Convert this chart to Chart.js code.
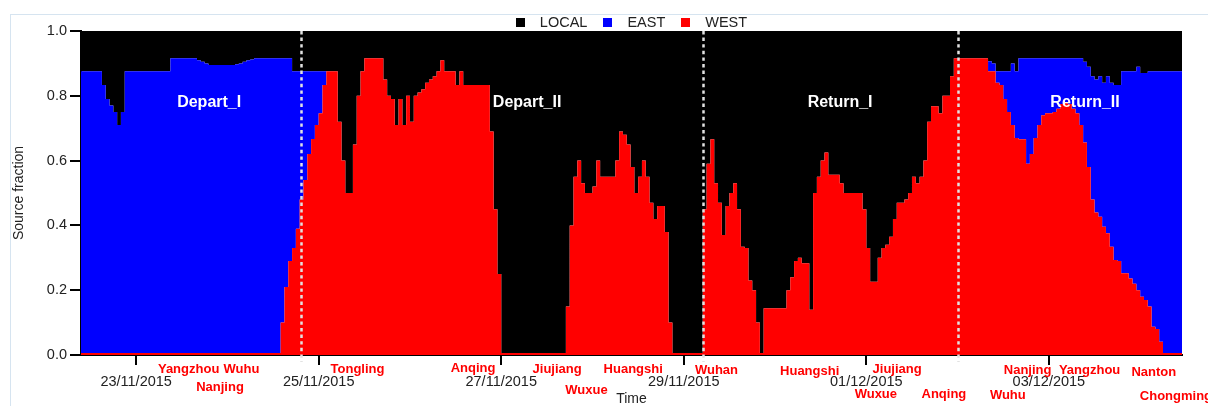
<!DOCTYPE html>
<html>
<head>
<meta charset="utf-8">
<title>Source fraction</title>
<script src="https://cdn.jsdelivr.net/npm/chart.js@4.4.1/dist/chart.umd.min.js"></script>
<style>
  html, body { margin: 0; padding: 0; background: #fff; }
  #wrap { position: relative; width: 1208px; height: 406px; }
</style>
</head>
<body>
<div id="wrap"><canvas id="chart"></canvas></div>
<script>
// hourly samples, hours counted from 23/11/2015 00:00 (first sample 22/11 09:00)
var START_HOUR = -15;

var WEST = [
  0.006,0.006,0.006,0.006,0.006,0.006,0.006,0.006,0.006,0.006,0.006,0.006,0.006,0.006,0.006,
  0.006,0.006,0.006,0.006,0.006,0.006,0.006,0.006,0.006,0.006,0.006,0.006,0.006,0.006,0.006,0.006,0.006,0.006,0.006,0.006,0.006,0.006,0.006,0.006,
  0.006,0.006,0.006,0.006,0.006,0.006,0.006,0.006,0.006,0.006,0.006,0.006,0.006,0.006,0.006,0.1,0.21,0.29,0.33,0.39,0.48,0.54,0.62,0.667,
  0.71,0.746,0.833,0.876,0.876,0.876,0.72,0.6,0.5,0.5,0.65,0.8,0.876,0.916,0.916,0.916,0.916,0.916,0.85,0.8,0.79,0.71,0.79,0.71,
  0.8,0.72,0.8,0.81,0.82,0.84,0.85,0.86,0.876,0.91,0.876,0.876,0.876,0.833,0.876,0.833,0.833,0.833,0.833,0.833,0.833,0.833,0.69,0.45,
  0.25,0.006,0.006,0.006,0.006,0.006,0.006,0.006,0.006,0.006,0.006,0.006,0.006,0.006,0.006,0.006,0.006,0.006,0.15,0.4,0.55,0.6,0.53,0.5,
  0.5,0.52,0.6,0.55,0.55,0.55,0.55,0.6,0.69,0.68,0.65,0.58,0.5,0.55,0.6,0.55,0.47,0.42,0.46,0.46,0.38,0.1,0.006,0.006,
  0.006,0.006,0.006,0.006,0.006,0.006,0.45,0.59,0.666,0.53,0.47,0.37,0.46,0.5,0.53,0.45,0.334,0.33,0.23,0.2,0.1,0.006,0.144,0.144,
  0.144,0.144,0.144,0.144,0.2,0.24,0.29,0.3,0.283,0.283,0.14,0.5,0.55,0.6,0.625,0.556,0.556,0.556,0.53,0.5,0.5,0.5,0.5,0.5,
  0.45,0.33,0.226,0.226,0.3,0.33,0.34,0.365,0.42,0.47,0.47,0.48,0.5,0.55,0.53,0.55,0.6,0.72,0.768,0.768,0.746,0.8,0.8,0.86,
  0.916,0.916,0.916,0.916,0.916,0.916,0.916,0.916,0.916,0.876,0.876,0.84,0.833,0.79,0.75,0.71,0.67,0.666,0.666,0.59,0.62,0.67,0.71,0.74,
  0.746,0.746,0.75,0.76,0.775,0.78,0.775,0.76,0.746,0.71,0.656,0.58,0.48,0.44,0.427,0.396,0.376,0.334,0.293,0.29,0.252,0.252,0.236,0.22,
  0.2,0.18,0.17,0.15,0.087,0.08,0.041,0.006,0.006,0.006,0.006,0.006
];

var EAST = [
  0.87,0.87,0.87,0.87,0.87,0.87,0.87,0.827,0.784,0.764,0.744,0.704,0.744,0.87,0.87,
  0.87,0.87,0.87,0.87,0.87,0.87,0.87,0.87,0.87,0.87,0.91,0.91,0.91,0.91,0.91,0.91,0.91,0.904,0.899,0.894,0.889,0.889,0.889,0.889,
  0.889,0.889,0.889,0.891,0.894,0.899,0.904,0.906,0.91,0.91,0.91,0.91,0.91,0.91,0.91,0.816,0.706,0.626,0.546,0.486,0.396,0.336,0.256,0.209,
  0.166,0.13,0.043,0,0,0,0,0,0,0,0,0,0,0,0,0,0,0,0,0,0,0,0,0,
  0,0,0,0,0,0,0,0,0,0,0,0,0,0,0,0,0,0,0,0,0,0,0,0,
  0,0,0,0,0,0,0,0,0,0,0,0,0,0,0,0,0,0,0,0,0,0,0,0,
  0,0,0,0,0,0,0,0,0,0,0,0,0,0,0,0,0,0,0,0,0,0,0,0,
  0,0,0,0,0,0,0,0,0,0,0,0,0,0,0,0,0,0,0,0,0,0,0,0,
  0,0,0,0,0,0,0,0,0,0,0,0,0,0,0,0,0,0,0,0,0,0,0,0,
  0,0,0,0,0,0,0,0,0,0,0,0,0,0,0,0,0,0,0,0,0,0,0,0,
  0,0,0,0,0,0,0,0,0,0.031,0.024,0.036,0.043,0.086,0.126,0.19,0.206,0.25,0.25,0.326,0.296,0.246,0.206,0.176,
  0.17,0.17,0.166,0.156,0.141,0.136,0.141,0.156,0.17,0.206,0.249,0.31,0.38,0.41,0.433,0.444,0.484,0.506,0.54,0.543,0.624,0.624,0.64,0.656,
  0.69,0.69,0.7,0.726,0.789,0.796,0.835,0.87,0.87,0.87,0.87,0.87
];

var LOCAL = [
  0.124,0.124,0.124,0.124,0.124,0.124,0.124,0.167,0.21,0.23,0.25,0.29,0.25,0.124,0.124,
  0.124,0.124,0.124,0.124,0.124,0.124,0.124,0.124,0.124,0.124,0.084,0.084,0.084,0.084,0.084,0.084,0.084,0.09,0.095,0.1,0.105,0.105,0.105,0.105,
  0.105,0.105,0.105,0.103,0.1,0.095,0.09,0.088,0.084,0.084,0.084,0.084,0.084,0.084,0.084,0.084,0.084,0.084,0.124,0.124,0.124,0.124,0.124,0.124,
  0.124,0.124,0.124,0.124,0.124,0.124,0.28,0.4,0.5,0.5,0.35,0.2,0.124,0.084,0.084,0.084,0.084,0.084,0.15,0.2,0.21,0.29,0.21,0.29,
  0.2,0.28,0.2,0.19,0.18,0.16,0.15,0.14,0.124,0.09,0.124,0.124,0.124,0.167,0.124,0.167,0.167,0.167,0.167,0.167,0.167,0.167,0.31,0.55,
  0.75,0.994,0.994,0.994,0.994,0.994,0.994,0.994,0.994,0.994,0.994,0.994,0.994,0.994,0.994,0.994,0.994,0.994,0.85,0.6,0.45,0.4,0.47,0.5,
  0.5,0.48,0.4,0.45,0.45,0.45,0.45,0.4,0.31,0.32,0.35,0.42,0.5,0.45,0.4,0.45,0.53,0.58,0.54,0.54,0.62,0.9,0.994,0.994,
  0.994,0.994,0.994,0.994,0.994,0.994,0.55,0.41,0.334,0.47,0.53,0.63,0.54,0.5,0.47,0.55,0.666,0.67,0.77,0.8,0.9,0.994,0.856,0.856,
  0.856,0.856,0.856,0.856,0.8,0.76,0.71,0.7,0.717,0.717,0.86,0.5,0.45,0.4,0.375,0.444,0.444,0.444,0.47,0.5,0.5,0.5,0.5,0.5,
  0.55,0.67,0.774,0.774,0.7,0.67,0.66,0.635,0.58,0.53,0.53,0.52,0.5,0.45,0.47,0.45,0.4,0.28,0.232,0.232,0.254,0.2,0.2,0.14,
  0.084,0.084,0.084,0.084,0.084,0.084,0.084,0.084,0.084,0.093,0.1,0.124,0.124,0.124,0.124,0.1,0.124,0.084,0.084,0.084,0.084,0.084,0.084,0.084,
  0.084,0.084,0.084,0.084,0.084,0.084,0.084,0.084,0.084,0.084,0.095,0.11,0.14,0.15,0.14,0.16,0.14,0.16,0.167,0.167,0.124,0.124,0.124,0.124,
  0.11,0.13,0.13,0.124,0.124,0.124,0.124,0.124,0.124,0.124,0.124,0.124
];

var TICK_HOURS = [0, 48, 96, 144, 192, 240];
var TICK_LABELS = ["23/11/2015", "25/11/2015", "27/11/2015", "29/11/2015", "01/12/2015", "03/12/2015"];

// cruise phases: boundaries and where each name sits
var PHASE_BOUNDS = [43.35, 149.05, 216.1];
var PHASE_NAMES = ["Depart_I", "Depart_II", "Return_I", "Return_II"];
var PHASE_HOURS = [19.2, 102.8, 185.1, 249.5];

// ports passed along the Yangtze
var CITY_NAMES = ["Yangzhou", "Wuhu", "Nanjing", "Tongling", "Anqing", "Jiujiang", "Wuxue", "Huangshi", "Wuhan",
                  "Huangshi", "Jiujiang", "Wuxue", "Anqing", "Wuhu", "Nanjing", "Yangzhou", "Nanton", "Chongming"];
var CITY_HOURS = [13.8, 27.7, 22.05, 58.2, 88.6, 110.7, 118.4, 130.7, 152.6,
                  177.1, 200.1, 194.5, 212.4, 229.2, 234.4, 250.7, 267.6, 273.4];
// baseline of each port name, px below the x axis
var CITY_DROP = [17.5, 17.5, 36, 18, 17, 18, 39, 18, 19, 20, 18, 43, 43, 44, 19, 19, 21, 45];

var FONT = '"Liberation Sans", Arial, sans-serif';

function series(values) {
  var pts = [];
  for (var i = 0; i < values.length; i++) {
    pts.push({ x: START_HOUR + i, y: values[i] });
  }
  return pts;
}

function layer(label, values, color, fill) {
  return {
    label: label,
    data: series(values),
    backgroundColor: color,
    borderColor: color,
    borderWidth: 0,
    pointRadius: 0,
    stepped: 'after',
    fill: fill
  };
}

var frame = {
  id: 'frame',
  beforeDraw: function(chart) {
    var ctx = chart.ctx;
    ctx.save();
    ctx.strokeStyle = '#d6e4f0';
    ctx.lineWidth = 1;
    ctx.strokeRect(10.5, 14.5, chart.width + 20, chart.height + 20);
    ctx.restore();
  }
};

var notes = {
  id: 'notes',
  afterDatasetsDraw: function(chart) {
    var ctx = chart.ctx, area = chart.chartArea;
    var xs = chart.scales.x, ys = chart.scales.y;
    ctx.save();
    // dotted phase boundaries
    ctx.strokeStyle = '#e2e2e2';
    ctx.lineWidth = 2.5;
    ctx.setLineDash([3.4, 3.2]);
    PHASE_BOUNDS.forEach(function(h) {
      var px = Math.round(xs.getPixelForValue(h)) + 0.5;
      ctx.beginPath();
      ctx.moveTo(px, area.top);
      ctx.lineTo(px, area.bottom + 7);
      ctx.stroke();
    });
    ctx.setLineDash([]);
    ctx.fillStyle = '#ffffff';
    ctx.font = 'bold 16px ' + FONT;
    ctx.textAlign = 'center';
    ctx.textBaseline = 'alphabetic';
    PHASE_NAMES.forEach(function(name, i) {
      ctx.fillText(name, xs.getPixelForValue(PHASE_HOURS[i]), ys.getPixelForValue(0.765));
    });
    ctx.restore();
  },
  afterDraw: function(chart) {
    var ctx = chart.ctx, area = chart.chartArea, xs = chart.scales.x;
    ctx.save();
    // port names under the axis
    ctx.fillStyle = '#ff0000';
    ctx.font = 'bold 13px ' + FONT;
    ctx.textAlign = 'center';
    ctx.textBaseline = 'alphabetic';
    CITY_NAMES.forEach(function(name, i) {
      ctx.fillText(name, xs.getPixelForValue(CITY_HOURS[i]), area.bottom + CITY_DROP[i]);
    });

    // legend row above the plot, top layer first
    var items = chart.data.datasets.slice().reverse();
    ctx.font = '14.5px ' + FONT;
    var box = 9, gapText = 15, gapItem = 16;
    var total = 0;
    items.forEach(function(d, k) {
      total += box + gapText + ctx.measureText(d.label).width;
      if (k < items.length - 1) total += gapItem;
    });
    var x = (area.left + area.right) / 2 - total / 2;
    var y = 22;
    ctx.textAlign = 'left';
    ctx.textBaseline = 'middle';
    items.forEach(function(d) {
      ctx.fillStyle = d.backgroundColor;
      ctx.fillRect(Math.round(x), y - 4, box, box);
      ctx.fillStyle = '#222';
      ctx.fillText(d.label, x + box + gapText, y + 0.5);
      x += box + gapText + ctx.measureText(d.label).width + gapItem;
    });
    ctx.restore();
  }
};

function draw() {
  var canvas = document.getElementById('chart');

  // stacked bottom-up: WEST, EAST, then LOCAL up to 1
  var datasets = [
    layer('WEST', WEST, '#ff0000', 'origin'),
    layer('EAST', EAST, '#0000ff', '-1'),
    layer('LOCAL', LOCAL, '#000000', '-1')
  ];

  new Chart(canvas.getContext('2d'), {
    type: 'line',
    data: { datasets: datasets },
    plugins: [frame, notes],
    options: {
      animation: false,
      responsive: true,
      maintainAspectRatio: false,
      events: [],
      layout: { padding: { top: 31, right: 26, left: 0, bottom: 0 } },
      plugins: { legend: { display: false }, tooltip: { enabled: false } },
      scales: {
        x: {
          type: 'linear',
          min: -14.5,
          max: 275,
          afterFit: function(s) { s.height = 51; },
          afterBuildTicks: function(s) {
            s.ticks = TICK_HOURS.map(function(h) { return { value: h }; });
          },
          ticks: {
            autoSkip: false,
            maxRotation: 0,
            padding: 8,
            color: '#222',
            font: { family: FONT, size: 14.5 },
            callback: function(v, i) { return TICK_LABELS[i]; }
          },
          grid: { drawOnChartArea: false, tickLength: 10, color: '#000', lineWidth: 2 },
          border: { display: true, color: '#000', width: 2 },
          title: { display: true, text: 'Time', color: '#222', font: { family: FONT, size: 14, lineHeight: 1 }, padding: 0 }
        },
        y: {
          stacked: true,
          min: 0,
          max: 1,
          afterFit: function(s) { s.width = 81; },
          ticks: {
            stepSize: 0.2,
            padding: 3,
            color: '#222',
            font: { family: FONT, size: 14.5 },
            callback: function(v) { return v.toFixed(1); }
          },
          grid: { drawOnChartArea: false, tickLength: 11, color: '#000', lineWidth: 2 },
          border: { display: true, color: '#000', width: 2 },
          title: { display: true, text: 'Source fraction', color: '#222', font: { family: FONT, size: 14 }, padding: { top: 11, bottom: 0 } }
        }
      }
    }
  });
}

window.onload = draw;
</script>
</body>
</html>
